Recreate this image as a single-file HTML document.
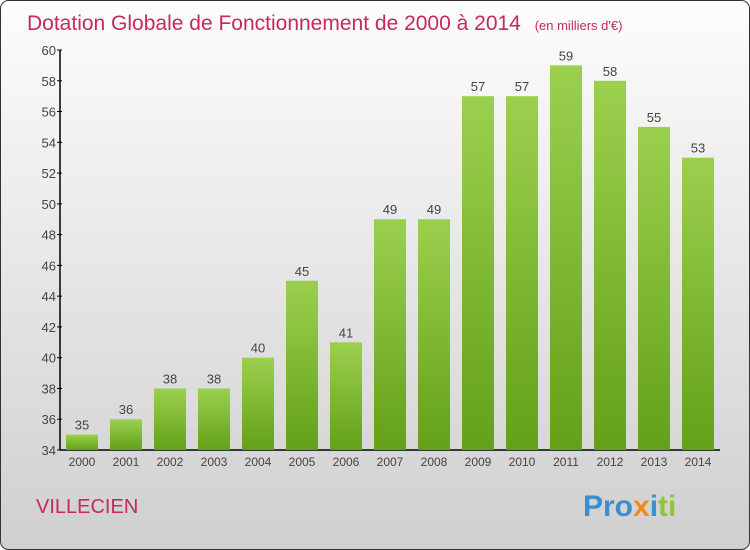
<!DOCTYPE html>
<html><head><meta charset="utf-8"><style>
body{margin:0;width:750px;height:550px;overflow:hidden}
svg{display:block;font-family:"Liberation Sans",sans-serif}
</style></head><body>
<svg width="750" height="550">
<defs>
<linearGradient id="bg" x1="0" y1="0" x2="0" y2="1"><stop offset="0" stop-color="#fdfdfd"/><stop offset="1" stop-color="#cfcfcf"/></linearGradient>
<linearGradient id="bar" x1="0" y1="0" x2="0" y2="1"><stop offset="0" stop-color="#9bd04e"/><stop offset="1" stop-color="#64a018"/></linearGradient>
</defs>
<rect x="0.5" y="0.5" width="749" height="549" rx="8" fill="url(#bg)" stroke="#333"/>
<text x="27" y="30" font-size="21" fill="#c8285a">Dotation Globale de Fonctionnement de 2000 à 2014 <tspan font-size="13" dx="8">(en milliers d'€)</tspan></text>
<g id="axes"></g><g id="bars"></g>
<text x="36" y="513" font-size="20" fill="#c8285a">VILLECIEN</text>
<text x="583" y="516" font-size="30" font-weight="bold"><tspan fill="#3a8fd0">Pro</tspan><tspan fill="#f08a1a">x</tspan><tspan fill="#3a8fd0">i</tspan><tspan fill="#8cc63f">ti</tspan></text>
</svg>
<script>
const categories=["2000","2001","2002","2003","2004","2005","2006","2007","2008","2009","2010","2011","2012","2013","2014"];
const values=[35,36,38,38,40,45,41,49,49,57,57,59,58,55,53];
const ticks=[34,36,38,40,42,44,46,48,50,52,54,56,58,60];
const ns="http://www.w3.org/2000/svg";
const y0=450,y1=50,vmin=34,vmax=60,x0=60;
const y=v=>y0-(v-vmin)/(vmax-vmin)*(y0-y1);
const x=i=>82+i*44;
function mk(t,a,p){const e=document.createElementNS(ns,t);for(const k in a)e.setAttribute(k,a[k]);p.appendChild(e);return e;}
const ax=document.getElementById('axes'),bg=document.getElementById('bars');
const yl=mk('line',{x1:x0,y1:y1,x2:x0,y2:y0,stroke:'#000','stroke-width':1.5},ax);


const xl=mk('line',{x1:x0,y1:y0,x2:720,y2:y0,stroke:'#000','stroke-width':1.5},ax);


ticks.forEach(t=>{
 mk('line',{x1:x0-3,y1:y(t),x2:x0+2,y2:y(t),stroke:'#000'},ax);
 const tx=mk('text',{x:x0-4,y:y(t)+5,'text-anchor':'end','font-size':13,fill:'#444'},ax);
 tx.textContent=t;
 
 
});
categories.forEach((c,i)=>{
 const r=mk('rect',{x:x(i)-16,y:y(values[i]),width:32,height:y0-y(values[i]),fill:'url(#bar)'},bg);
 
 
 const l=mk('text',{x:x(i),y:y(values[i])-5,'text-anchor':'middle','font-size':13,fill:'#444'},bg);
 l.textContent=values[i];
 
 
 const xt=mk('text',{x:x(i),y:466,'text-anchor':'middle','font-size':12,fill:'#444'},ax);
 xt.textContent=c;
 
 
});
</script>
</body></html>
